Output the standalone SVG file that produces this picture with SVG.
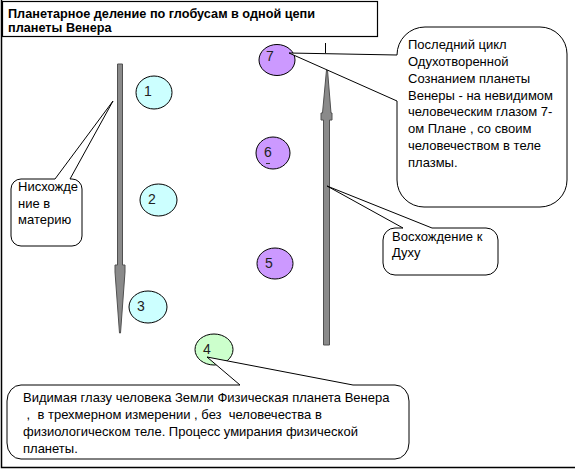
<svg xmlns="http://www.w3.org/2000/svg" width="575" height="470" viewBox="0 0 575 470">
<style>
.t{font-family:"Liberation Sans",Arial,sans-serif;font-size:13px;fill:#000}
.tb{font-family:"Liberation Sans",Arial,sans-serif;font-size:12.7px;font-weight:bold;fill:#000}
.num{font-family:"Liberation Sans",Arial,sans-serif;font-size:14px;fill:#222;text-anchor:middle}
.call{fill:#fff;stroke:#000;stroke-width:1}
.rod{fill:#8a8a8a;stroke:#505050;stroke-width:1}
.cy{fill:#ccffff;stroke:#000;stroke-width:1}
.gr{fill:#ccffcc;stroke:#000;stroke-width:1}
.pu{fill:#cc99ff;stroke:#000;stroke-width:1}
</style>
<rect x="0" y="0" width="575" height="470" fill="#fff"/>
<path d="M1.5,0 V467.5 H575" fill="none" stroke="#000" stroke-width="1.5"/>
<g id="title">
<rect x="2.5" y="1.5" width="375" height="35" fill="#fff" stroke="#000" stroke-width="1.2"/>
<text class="tb" x="8" y="18">Планетарное деление по глобусам в одной цепи</text>
<text class="tb" x="8" y="32">планеты Венера</text>
</g>
<g id="connectors">
<path class="rod" d="M117.5,64 H122.5 V265 H125 V272 L120.5,333 L119.5,333 L115,272 V265 H117.5 Z"/>
<path class="rod" d="M326.5,70 L327.5,70 L331,113 H332 V120 H329.5 V345 H323.5 V120 H321 V113 H322.5 Z"/>
<line x1="325.5" y1="43" x2="325.5" y2="53" stroke="#000" stroke-width="1"/>
</g>
<g id="globe1"><ellipse class="cy" cx="154" cy="92.5" rx="18" ry="16.5"/><text class="num" x="148" y="96">1</text></g>
<g id="globe2"><ellipse class="cy" cx="158.5" cy="200" rx="18.5" ry="16"/><text class="num" x="152" y="204">2</text></g>
<g id="globe3"><ellipse class="cy" cx="148" cy="307" rx="19" ry="16"/><text class="num" x="141" y="311">3</text></g>
<g id="globe4"><ellipse class="gr" cx="214" cy="349.5" rx="19" ry="15.5"/><text class="num" x="207" y="354">4</text></g>
<g id="globe5"><ellipse class="pu" cx="275" cy="263.5" rx="18" ry="15.5"/><text class="num" x="269" y="268">5</text></g>
<g id="globe6"><ellipse class="pu" cx="273" cy="153" rx="17" ry="16"/><text class="num" x="268" y="157">6</text><line x1="266" y1="163.5" x2="270" y2="163.5" stroke="#333" stroke-width="1"/></g>
<g id="globe7"><ellipse class="pu" cx="277" cy="60" rx="18" ry="15.5"/><text class="num" x="270" y="61">7</text></g>
<g id="callout-descent">
<path class="call" d="M21,179 H55 L113,101 L70,179 H72 A10,10 0 0 1 82,189 V236 A10,10 0 0 1 72,246 H21 A10,10 0 0 1 11,236 V189 A10,10 0 0 1 21,179 Z"/>
<text class="t" x="18" y="191">Нисхожде</text>
<text class="t" x="18" y="208">ние в</text>
<text class="t" x="18" y="224">материю</text>
</g>
<g id="callout-last-cycle">
<path class="call" d="M425,27 H540 A27,27 0 0 1 567,54 V180 A27,27 0 0 1 540,207 H424 A27,27 0 0 1 397,180 V101 L289,53 L397,55 A28,28 0 0 1 425,27 Z"/>
<text class="t" x="408" y="49">Последний цикл</text>
<text class="t" x="408" y="66">Одухотворенной</text>
<text class="t" x="408" y="83">Сознанием планеты</text>
<text class="t" x="408" y="100">Венеры - на невидимом</text>
<text class="t" x="408" y="116">человеческим глазом 7-</text>
<text class="t" x="408" y="133">ом Плане , со своим</text>
<text class="t" x="408" y="150">человечеством в теле</text>
<text class="t" x="408" y="167">плазмы.</text>
</g>
<g id="callout-ascent">
<path class="call" d="M395,228 H403 L327,186 L432,228 H486 A12,12 0 0 1 498,240 V263 A12,12 0 0 1 486,275 H395 A12,12 0 0 1 383,263 V240 A12,12 0 0 1 395,228 Z"/>
<text class="t" x="392" y="241">Восхождение к</text>
<text class="t" x="392" y="257">Духу</text>
</g>
<g id="callout-physical">
<path class="call" d="M21,385 H240 L207,357 L353,385 H395 A14,16 0 0 1 409,401 V443 A14,16 0 0 1 395,459 H21 A14,16 0 0 1 7,443 V401 A14,16 0 0 1 21,385 Z"/>
<text class="t" x="23" y="402">Видимая глазу человека Земли Физическая планета Венера</text>
<text class="t" x="23" y="419" xml:space="preserve"> ,  в трехмерном измерении , без  человечества в</text>
<text class="t" x="23" y="436">физиологическом теле. Процесс умирания физической</text>
<text class="t" x="23" y="453">планеты.</text>
</g>
</svg>
